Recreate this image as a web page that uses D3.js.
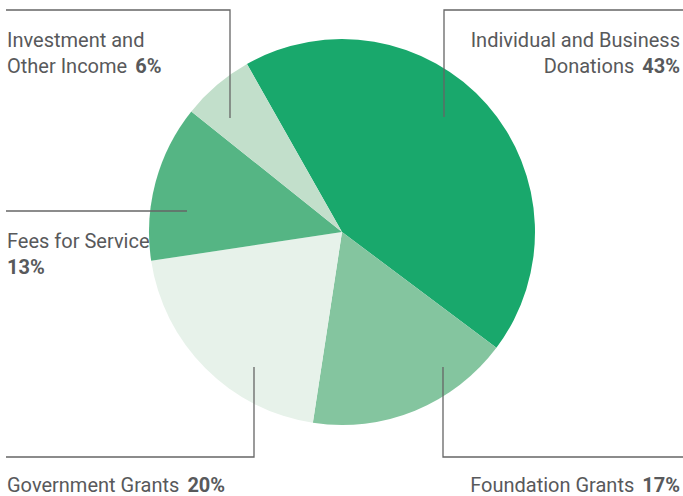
<!DOCTYPE html>
<html><head><meta charset="utf-8">
<script src="https://cdn.jsdelivr.net/npm/d3@7"></script>
<style>body{margin:0;background:#fff}svg{display:block}</style>
</head><body><svg id="c" width="683" height="496"></svg>
<script>
const categories = ["Individual and Business Donations","Foundation Grants","Government Grants","Fees for Service","Investment and Other Income"];
const values = [43,17,20,13,6];
const colors = ["#19a86c","#84c59f","#e7f2ea","#55b584","#c2dfcb"];
const labelLines = [["Individual and Business","Donations"],["Foundation Grants"],["Government Grants"],["Fees for Service"],["Investment and","Other Income"]];

const svg = d3.select("#c");
const cx = 342, cy = 232, r = 193;
const pie = d3.pie().sort(null).startAngle(-29.5*Math.PI/180).endAngle((360-29.5)*Math.PI/180);
const arc = d3.arc().innerRadius(0).outerRadius(r);
const g = svg.append("g").attr("transform",`translate(${cx},${cy})`);
g.selectAll("path").data(pie(values)).join("path").attr("d",arc).attr("fill",(d,i)=>colors[i]);

const lc = "#666", tc = "#58595b";
const lines = svg.append("g").attr("stroke",lc).attr("stroke-width",1.3).attr("fill","none");
lines.append("polyline").attr("points","444,117 444,10 683,10");
lines.append("polyline").attr("points","6,10 230,10 230,118");
lines.append("polyline").attr("points","6,211 187,211");
lines.append("polyline").attr("points","6,457 254,457 254,367");
lines.append("polyline").attr("points","443,367 443,457 683,457");

const font = "Roboto, 'DejaVu Sans', sans-serif";
const fs = 20;
function label(x, y, anchor, lns, pct, pctNewLine){
  const t = svg.append("text").attr("x",x).attr("y",y).attr("text-anchor",anchor)
    .attr("font-family",font).attr("font-size",fs).attr("fill",tc);
  lns.forEach((l,i)=>{
    t.append("tspan").attr("x",x).attr("dy", i===0?0:26).text(l);
  });
  if(pctNewLine){
    t.append("tspan").attr("x",x).attr("dy",26).attr("font-weight","bold").text(pct+"%");
  } else {
    t.append("tspan").attr("font-weight","bold").attr("dx",8).text(pct+"%");
  }
}
label(680, 47, "end", labelLines[0], values[0], false);
label(680, 492, "end", labelLines[1], values[1], false);
label(7, 492, "start", labelLines[2], values[2], false);
label(7, 248, "start", labelLines[3], values[3], true);
label(7, 47, "start", labelLines[4], values[4], false);
</script></body></html>
